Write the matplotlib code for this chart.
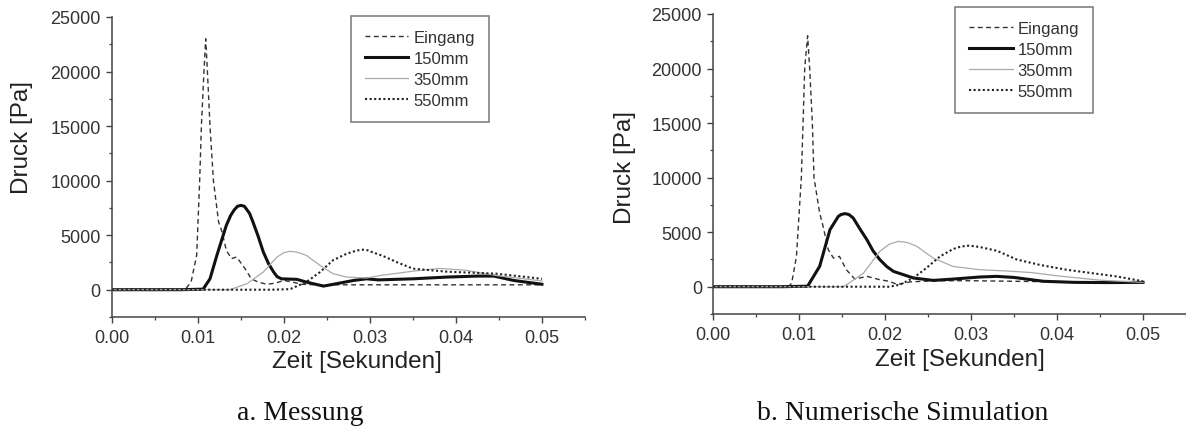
import matplotlib
matplotlib.use("Agg")
import matplotlib.pyplot as plt
from matplotlib.ticker import MultipleLocator

# --- Daten: Messung (links) ---
mess_t_eingang = [0, 0.005, 0.0085, 0.0092, 0.00985, 0.0102, 0.0104, 0.0107, 0.0109, 0.0111,
                  0.0114, 0.0118, 0.0124, 0.0128, 0.0133, 0.0139, 0.0145, 0.0155, 0.0162, 0.017,
                  0.018, 0.019, 0.020, 0.021, 0.022, 0.024, 0.027, 0.030, 0.035, 0.040, 0.045, 0.050]
mess_p_eingang = [0, 0, 0, 700, 3150, 10000, 15000, 20000, 23000, 20000,
                  15000, 10000, 6200, 5300, 3600, 2850, 3000, 1900, 1000, 700,
                  500, 600, 850, 700, 500, 450, 450, 450, 450, 450, 450, 450]

mess_t_150 = [0, 0.008, 0.0106, 0.0114, 0.0122, 0.0133, 0.0138, 0.0142, 0.0146, 0.0150,
              0.0154, 0.0160, 0.0164, 0.0170, 0.0176, 0.0182, 0.0188, 0.0192, 0.0197, 0.0215,
              0.0226, 0.0246, 0.0261, 0.0281, 0.0296, 0.031, 0.035, 0.039, 0.0425, 0.0444,
              0.0467, 0.050]
mess_p_150 = [0, 0, 50, 1000, 3150, 5900, 6800, 7300, 7650, 7730,
              7650, 7000, 6200, 4900, 3460, 2400, 1620, 1200, 1000, 950,
              700, 330, 550, 850, 1000, 900, 1000, 1160, 1250, 1250,
              850, 500]

mess_t_350 = [0, 0.0137, 0.0157, 0.0176, 0.0192, 0.0200, 0.0207, 0.0215, 0.0226, 0.0242,
              0.0257, 0.0273, 0.0296, 0.0312, 0.035, 0.038, 0.041, 0.0447, 0.050]
mess_p_350 = [0, 0, 550, 1620, 3000, 3400, 3520, 3450, 3150, 2230,
              1470, 1160, 1070, 1300, 1700, 1950, 1800, 1300, 800]

mess_t_550 = [0, 0.0185, 0.0207, 0.0226, 0.0242, 0.0257, 0.0273, 0.0285, 0.0292, 0.0297,
              0.0302, 0.0315, 0.0332, 0.035, 0.039, 0.0447, 0.050]
mess_p_550 = [0, 0, 50, 700, 1620, 2700, 3300, 3600, 3670, 3620,
              3460, 3100, 2500, 1930, 1650, 1470, 1000]

# --- Daten: Numerische Simulation (rechts) ---
sim_t_eingang = [0, 0.005, 0.0088, 0.00915, 0.0097, 0.01027, 0.01047, 0.01066, 0.0110, 0.01124,
                 0.01155, 0.01174, 0.0124, 0.0128, 0.0134, 0.0140, 0.0147, 0.0155, 0.0165, 0.0179,
                 0.0194, 0.0205, 0.0214, 0.023, 0.026, 0.030, 0.035, 0.040, 0.045, 0.050]
sim_p_eingang = [0, 0, 0, 340, 2780, 10000, 15000, 20000, 23000, 20000,
                 15000, 10000, 6760, 5530, 3400, 2630, 2780, 1560, 700, 950,
                 640, 500, 200, 450, 550, 550, 500, 450, 450, 450]

sim_t_150 = [0, 0.008, 0.011, 0.0124, 0.0136, 0.01457, 0.0149, 0.01535, 0.0158, 0.0163,
             0.0170, 0.0179, 0.0186, 0.0194, 0.0202, 0.021, 0.0233, 0.0256, 0.0279, 0.031,
             0.033, 0.035, 0.0384, 0.042, 0.046, 0.050]
sim_p_150 = [0, 0, 50, 1870, 5230, 6450, 6620, 6700, 6620, 6300,
             5400, 4300, 3300, 2480, 1850, 1400, 800, 580, 700, 890,
             950, 850, 500, 400, 380, 400]

sim_t_350 = [0, 0.0152, 0.0175, 0.0194, 0.0205, 0.02155, 0.0226, 0.0237, 0.0256, 0.0279,
             0.031, 0.034, 0.037, 0.040, 0.045, 0.050]
sim_p_350 = [0, 0, 1250, 3240, 3900, 4160, 4050, 3700, 2630, 1860,
             1560, 1450, 1300, 1000, 600, 400]

sim_t_550 = [0, 0.0205, 0.0217, 0.0233, 0.0248, 0.0264, 0.0279, 0.0288, 0.0297, 0.0303,
             0.031, 0.033, 0.0353, 0.038, 0.0411, 0.044, 0.0469, 0.050]
sim_p_550 = [0, 0, 180, 800, 1710, 2780, 3450, 3680, 3760, 3720,
             3640, 3300, 2500, 2000, 1560, 1250, 950, 500]

labels = ["Eingang", "150mm", "350mm", "550mm"]
x_ticks = [0.00, 0.01, 0.02, 0.03, 0.04, 0.05]
x_tick_labels = ["0.00", "0.01", "0.02", "0.03", "0.04", "0.05"]
y_ticks = [0, 5000, 10000, 15000, 20000, 25000]

# Linienstile der vier Kurven
stile = [
    dict(color="#333333", lw=1.0, ls=(0, (3.5, 2.5))),
    dict(color="#111111", lw=2.2, ls="-"),
    dict(color="#aaaaaa", lw=0.9, ls="-"),
    dict(color="#222222", lw=1.5, ls=(0, (1, 1.2))),
]

plt.rcParams["font.family"] = ["Liberation Sans", "DejaVu Sans"]

fig = plt.figure(figsize=(11.86, 4.27), dpi=100)


def zeichne(ax, daten, xlab_pos, ylab_pos, leg_pos):
    for (t, p), lab, st in zip(daten, labels, stile):
        ax.plot(t, p, label=lab, color=st["color"], lw=st["lw"], linestyle=st["ls"])

    ax.set_xlim(0, 0.055)
    ax.set_ylim(-2500, 25000)
    ax.set_xticks(x_ticks)
    ax.set_xticklabels(x_tick_labels)
    ax.set_yticks(y_ticks)
    ax.xaxis.set_minor_locator(MultipleLocator(0.005))
    ax.yaxis.set_minor_locator(MultipleLocator(2500))

    # nur linke und untere Achse
    ax.spines["top"].set_visible(False)
    ax.spines["right"].set_visible(False)
    for s in ["left", "bottom"]:
        ax.spines[s].set_color("#444444")
        ax.spines[s].set_linewidth(1.1)

    ax.tick_params(which="major", direction="out", length=4, width=1.0,
                   color="#444444", labelsize=13, labelcolor="#333333")
    ax.tick_params(which="minor", direction="out", length=2.5, width=0.9, color="#444444")
    ax.tick_params(axis="x", pad=5)
    ax.tick_params(axis="y", pad=4)

    ax.set_xlabel("Zeit [Sekunden]", fontsize=17.5, color="#222222", va="center")
    ax.xaxis.set_label_coords(*xlab_pos)
    ax.set_ylabel("Druck [Pa]", fontsize=17.5, color="#222222", va="center")
    ax.yaxis.set_label_coords(*ylab_pos)

    leg = ax.legend(loc="upper left", bbox_to_anchor=leg_pos, borderaxespad=0,
                    fontsize=12, handlelength=2.6, handletextpad=0.3,
                    labelspacing=0.35, borderpad=0.85, fancybox=False,
                    framealpha=1)
    leg.get_frame().set_edgecolor("#777777")
    leg.get_frame().set_linewidth(1.1)
    for txt in leg.get_texts():
        txt.set_color("#333333")


ax1 = fig.add_axes([0.0944, 0.2553, 0.3988, 0.7026])
zeichne(ax1,
        [(mess_t_eingang, mess_p_eingang), (mess_t_150, mess_p_150),
         (mess_t_350, mess_p_350), (mess_t_550, mess_p_550)],
        (0.518, -0.147), (-0.19, 0.603), (0.505, 1.003))

ax2 = fig.add_axes([0.6012, 0.2623, 0.3988, 0.7026])
zeichne(ax2,
        [(sim_t_eingang, sim_p_eingang), (sim_t_150, sim_p_150),
         (sim_t_350, sim_p_350), (sim_t_550, sim_p_550)],
        (0.522, -0.15), (-0.186, 0.493), (0.512, 1.023))

# Bildunterschriften
fig.text(300 / 1186, 7 / 427, "a. Messung", ha="center", va="baseline",
         fontsize=20, family=["Liberation Serif", "DejaVu Serif"], color="#111111")
fig.text(903 / 1186, 7 / 427, "b. Numerische Simulation", ha="center", va="baseline",
         fontsize=20, family=["Liberation Serif", "DejaVu Serif"], color="#111111")

fig.savefig("out.png", dpi=100)
